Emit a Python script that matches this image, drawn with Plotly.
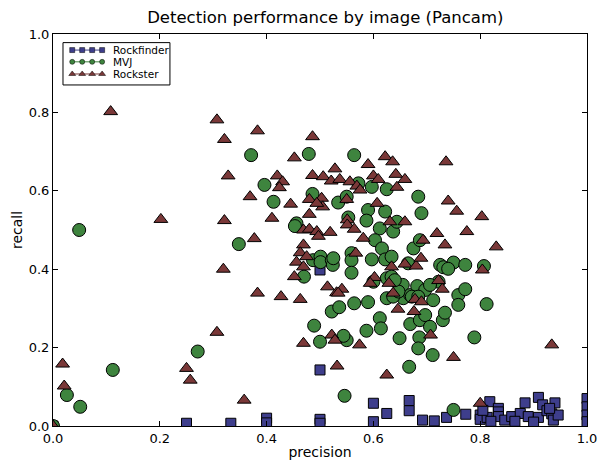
import plotly.graph_objects as go

# Rockfinder detections: precision / recall per image
rockfinder_precision = [
    0.0, 0.250, 0.333, 0.400, 0.400, 0.500, 0.500, 0.500, 0.500, 0.600,
    0.600, 0.625, 0.667, 0.667, 0.692, 0.714, 0.737, 0.773, 0.800, 0.800,
    0.818, 0.813, 0.834, 0.834, 0.834, 0.846, 0.859, 0.875, 0.884, 0.890,
    0.909, 0.909, 0.917, 0.925, 0.934, 0.940, 0.937, 0.946, 1.0, 1.0,
    1.0, 1.0, 0.805, 0.820, 0.865, 0.900, 0.930,
]
rockfinder_recall = [
    0.0, 0.007, 0.007, 0.020, 0.008, 0.398, 0.143, 0.017, 0.007, 0.058,
    0.011, 0.032, 0.065, 0.039, 0.015, 0.013, 0.022, 0.030, 0.028, 0.017,
    0.062, 0.022, 0.045, 0.036, 0.024, 0.015, 0.024, 0.032, 0.059, 0.024,
    0.073, 0.022, 0.054, 0.039, 0.031, 0.059, 0.015, 0.028, 0.070, 0.049,
    0.028, 0.011, 0.040, 0.012, 0.012, 0.010, 0.045,
]

# MVJ detections
mvj_precision = [
    0.0, 0.049, 0.112, 0.271, 0.348, 0.371, 0.396, 0.413, 0.479, 0.486,
    0.534, 0.456, 0.453, 0.487, 0.501, 0.501, 0.522, 0.524, 0.470, 0.522,
    0.536, 0.489, 0.500, 0.026, 0.051, 0.546, 0.667, 0.750, 0.711, 0.564,
    0.572, 0.597, 0.625, 0.684, 0.690, 0.550, 0.553, 0.590, 0.587, 0.622,
    0.612, 0.637, 0.644, 0.603, 0.616, 0.675, 0.687, 0.525, 0.559, 0.559,
    0.597, 0.622, 0.634, 0.665, 0.725, 0.750, 0.772, 0.807, 0.731, 0.559,
    0.600, 0.625, 0.634, 0.625, 0.655, 0.656, 0.669, 0.682, 0.697, 0.712,
    0.722, 0.759, 0.772, 0.812, 0.564, 0.590, 0.612, 0.614, 0.587, 0.550,
    0.544, 0.649, 0.669, 0.687, 0.686, 0.697, 0.706, 0.684, 0.730, 0.734,
    0.789, 0.637, 0.647, 0.759, 0.640, 0.706, 0.672, 0.684, 0.740,
]
mvj_recall = [
    0.0, 0.500, 0.143, 0.190, 0.464, 0.691, 0.615, 0.572, 0.694, 0.592,
    0.570, 0.517, 0.510, 0.423, 0.432, 0.418, 0.423, 0.411, 0.381, 0.292,
    0.303, 0.256, 0.215, 0.079, 0.049, 0.077, 0.151, 0.041, 0.181, 0.691,
    0.619, 0.610, 0.604, 0.585, 0.543, 0.585, 0.532, 0.551, 0.524, 0.547,
    0.504, 0.496, 0.521, 0.474, 0.453, 0.453, 0.474, 0.428, 0.441, 0.423,
    0.425, 0.425, 0.432, 0.415, 0.411, 0.417, 0.411, 0.408, 0.405, 0.391,
    0.368, 0.377, 0.381, 0.326, 0.360, 0.326, 0.334, 0.357, 0.347, 0.321,
    0.368, 0.334, 0.349, 0.311, 0.313, 0.316, 0.275, 0.249, 0.243, 0.219,
    0.230, 0.224, 0.260, 0.270, 0.226, 0.283, 0.253, 0.198, 0.270, 0.289,
    0.226, 0.330, 0.343, 0.309, 0.372, 0.360, 0.330, 0.330, 0.401,
]

# Rockster detections
rockster_precision = [
    0.0, 0.108, 0.202, 0.307, 0.321, 0.328, 0.383, 0.321, 0.319, 0.377,
    0.383, 0.307, 0.250, 0.257, 0.358, 0.018, 0.021, 0.369, 0.486, 0.452,
    0.420, 0.430, 0.424, 0.486, 0.506, 0.521, 0.528, 0.445, 0.480, 0.503,
    0.505, 0.494, 0.410, 0.480, 0.469, 0.480, 0.494, 0.519, 0.469, 0.463,
    0.475, 0.456, 0.469, 0.452, 0.427, 0.463, 0.514, 0.531, 0.469, 0.522,
    0.528, 0.532, 0.551, 0.551, 0.564, 0.581, 0.622, 0.636, 0.736, 0.590,
    0.600, 0.642, 0.659, 0.609, 0.537, 0.556, 0.569, 0.575, 0.644, 0.550,
    0.607, 0.740, 0.756, 0.803, 0.631, 0.659, 0.719, 0.775, 0.734, 0.693,
    0.830, 0.567, 0.634, 0.659, 0.680, 0.689, 0.804, 0.602, 0.594, 0.629,
    0.637, 0.722, 0.729, 0.678, 0.690, 0.541, 0.534, 0.646, 0.676, 0.574,
    0.707, 0.750, 0.625, 0.800, 0.934, 0.497,
]
rockster_recall = [
    0.0, 0.802, 0.527, 0.781, 0.731, 0.638, 0.753, 0.524, 0.400, 0.478,
    0.339, 0.239, 0.147, 0.117, 0.066, 0.158, 0.102, 0.585, 0.738, 0.684,
    0.638, 0.623, 0.608, 0.639, 0.636, 0.625, 0.656, 0.566, 0.578, 0.581,
    0.559, 0.568, 0.530, 0.540, 0.500, 0.502, 0.496, 0.494, 0.462, 0.442,
    0.432, 0.418, 0.406, 0.381, 0.330, 0.323, 0.355, 0.340, 0.211, 0.232,
    0.219, 0.153, 0.526, 0.513, 0.502, 0.479, 0.687, 0.674, 0.674, 0.667,
    0.638, 0.642, 0.629, 0.629, 0.629, 0.623, 0.612, 0.602, 0.609, 0.578,
    0.568, 0.574, 0.548, 0.534, 0.521, 0.521, 0.491, 0.496, 0.462, 0.474,
    0.457, 0.441, 0.406, 0.413, 0.408, 0.428, 0.398, 0.379, 0.364, 0.364,
    0.339, 0.371, 0.349, 0.323, 0.317, 0.349, 0.339, 0.298, 0.292, 0.207,
    0.232, 0.175, 0.130, 0.058, 0.207, 0.484,
]

series_names = ["Rockfinder", "MVJ", "Rockster"]
tick_values = [0.0, 0.2, 0.4, 0.6, 0.8, 1.0]

BLUE = "rgb(62,62,140)"
GREEN = "rgb(62,132,62)"
RED = "rgb(122,56,56)"
FONT = "DejaVu Sans"

fig = go.Figure()

styles = [
    (rockfinder_precision, rockfinder_recall, "square", 10, BLUE),
    (mvj_precision, mvj_recall, "circle", 13, GREEN),
    (rockster_precision, rockster_recall, "triangle-up", 12, RED),
]

for name, (xs, ys, sym, size, col) in zip(series_names, styles):
    fig.add_trace(go.Scatter(
        x=xs, y=ys, mode="markers", name=name, showlegend=False,
        marker=dict(symbol=sym, size=size, color=col,
                    line=dict(color="black", width=1)),
        cliponaxis=True,
    ))

# Compact legend box drawn in axes-fraction space (overlay axes x2/y2):
# a short line with four small markers per entry, then the series name.
LEG_X0, LEG_X1 = 0.036, 0.092
LEG_ROWS = [0.959, 0.929, 0.898]
glyph_x = [LEG_X0 + i * (LEG_X1 - LEG_X0) / 3 for i in range(4)]
for name, row, (xs, ys, sym, size, col) in zip(series_names, LEG_ROWS, styles):
    fig.add_trace(go.Scatter(
        x=glyph_x, y=[row] * 4, xaxis="x2", yaxis="y2",
        mode="lines+markers", showlegend=False, hoverinfo="skip",
        line=dict(color=col, width=1),
        marker=dict(symbol=sym, size=5 if sym != "triangle-up" else 6,
                    color=col, line=dict(color="black", width=0.5)),
    ))
    fig.add_annotation(
        x=0.111, y=row, xref="paper", yref="paper", text=name,
        showarrow=False, xanchor="left", yanchor="middle",
        font=dict(family=FONT, size=10.5, color="black"),
        borderpad=0,
    )
fig.add_shape(type="rect", xref="paper", yref="paper",
              x0=0.0187, x1=0.219, y0=0.87, y1=0.978,
              line=dict(color="black", width=1), fillcolor="white",
              layer="below")

axis_common = dict(
    range=[0, 1], tickvals=tick_values, tickformat=".1f",
    ticks="inside", ticklen=5, tickwidth=1, tickcolor="black",
    showline=True, linecolor="black", linewidth=1, mirror="ticks",
    showgrid=False, zeroline=False, automargin=False,
    tickfont=dict(family=FONT, size=13, color="black"),
)

fig.update_layout(
    width=598, height=464,
    margin=dict(l=53, r=11, t=34, b=38),
    paper_bgcolor="white", plot_bgcolor="white",
    title=dict(text="Detection performance by image (Pancam)",
               x=0.544, xanchor="center", y=0.963, yanchor="middle",
               font=dict(family=FONT, size=16.5, color="black")),
    xaxis=dict(axis_common,
               title=dict(text="precision", standoff=2,
                          font=dict(family=FONT, size=14, color="black"))),
    yaxis=dict(axis_common,
               title=dict(text="recall", standoff=2,
                          font=dict(family=FONT, size=14, color="black"))),
    xaxis2=dict(overlaying="x", range=[0, 1], visible=False),
    yaxis2=dict(overlaying="y", range=[0, 1], visible=False),
    showlegend=False,
)

fig.write_html("out.html")
